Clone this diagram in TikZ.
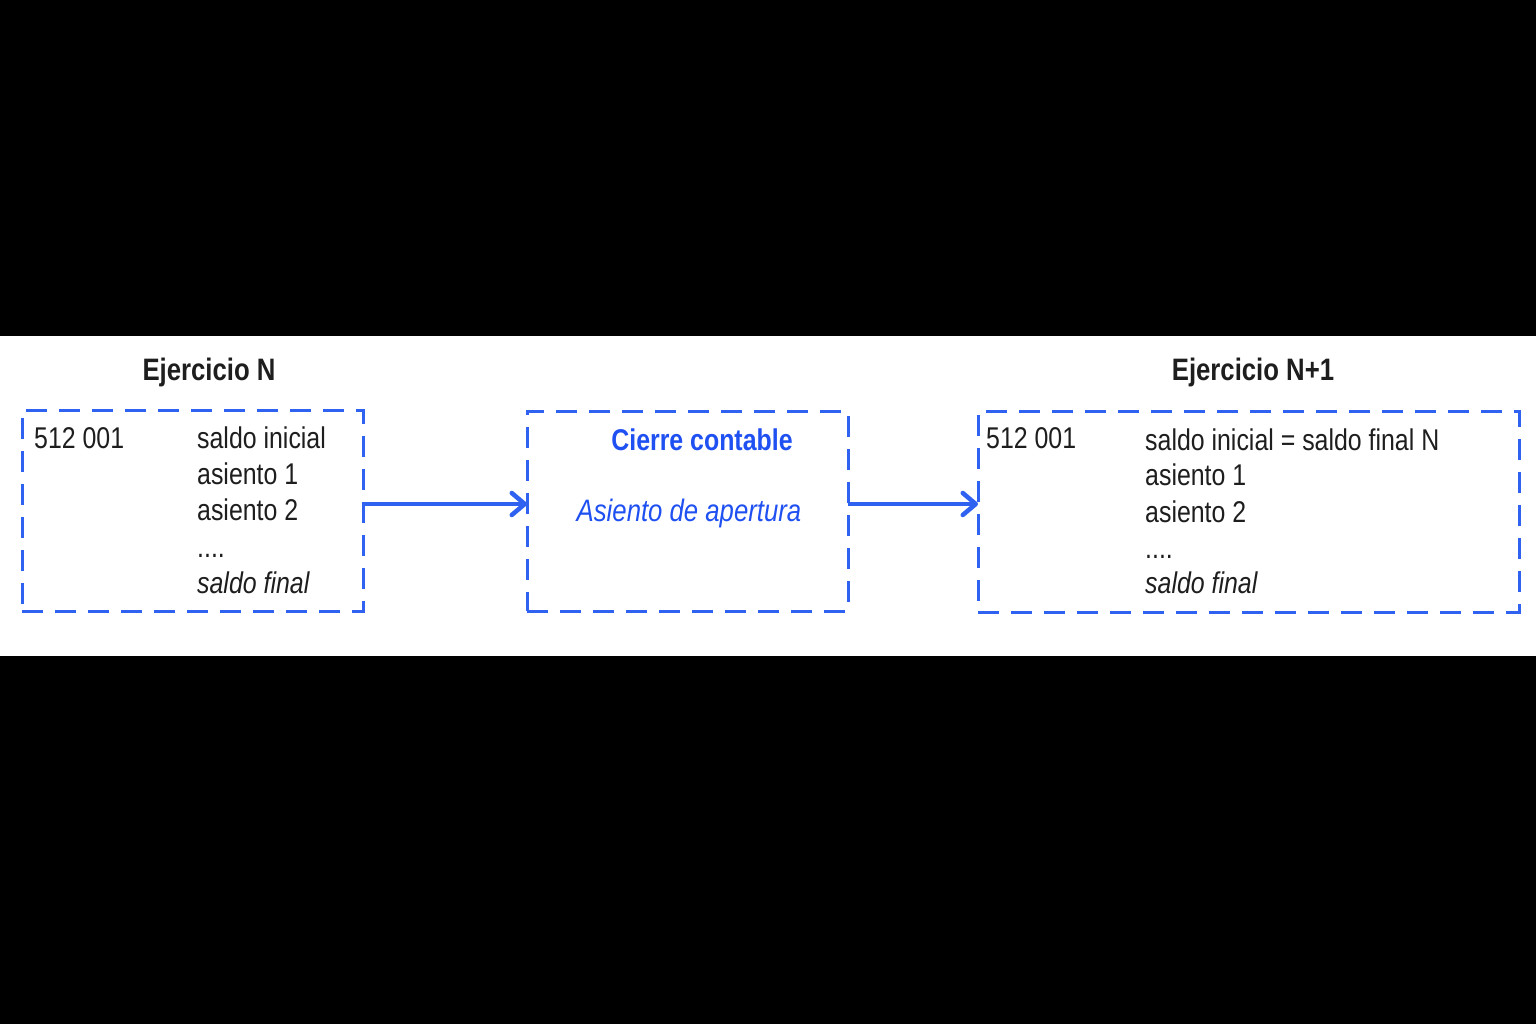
\documentclass[tikz,border=0pt]{standalone}
\usepackage{fontspec}
\setmainfont{Liberation Sans}[FakeStretch=0.83]
\usetikzlibrary{arrows.meta}
\definecolor{lineblue}{HTML}{2F62F0}
\definecolor{textblue}{HTML}{1F50F2}
\definecolor{ink}{HTML}{1E1E1E}
\tikzset{
  dbox/.style={draw=lineblue, line width=3pt, dash pattern=on 21pt off 12pt, minimum width=#1, inner sep=0pt, outer sep=0pt},
  txt/.style={anchor=base west, inner sep=0pt, text=ink, font=\fontsize{30}{36}\selectfont},
  ttl/.style={anchor=base, inner sep=0pt, text=ink, font=\fontsize{31}{36}\selectfont\bfseries},
  arr/.style={draw=lineblue, line width=4pt, -{Straight Barb[length=13pt,width=22pt,line width=4.5pt,round]}}
}
\begin{document}
\begin{tikzpicture}[x=1pt,y=-1pt]
\useasboundingbox (0,0) rectangle (1536,1024);
\fill[black] (0,0) rectangle (1536,1024);
\fill[white] (0,336) rectangle (1536,656);

% boxes
\node[dbox=341pt, minimum height=201pt] (lbox) at (192.5,510.5) {};
\node[dbox=321pt, minimum height=200pt] (mbox) at (687.5,511) {};
\node[dbox=541pt, minimum height=201pt] (rbox) at (1248.5,511.5) {};

% titles
\node[ttl] (t1) at (209,380) {Ejercicio N};
\node[ttl] (t2) at (1253,380) {Ejercicio N+1};

% left box text
\node[txt] (l0) at (34,448) {512 001};
\node[txt] (l1) at (197,448) {saldo inicial};
\node[txt] (l2) at (197,484) {asiento 1};
\node[txt] (l3) at (197,520) {asiento 2};
\node[txt] (l4) at (197,557) {....};
\node[txt] (l5) at (197,593) {\itshape saldo final};

% middle box text
\node[ttl, text=textblue, font=\fontsize{30}{36}\selectfont\bfseries] (m1) at (702,450) {Cierre contable};
\node[anchor=base, inner sep=0pt, text=textblue, font=\fontsize{31}{36}\selectfont\itshape] (m2) at (689,521) {Asiento de apertura};

% right box text
\node[txt] (r0) at (986,448) {512 001};
\node[txt] (r1) at (1145,450) {saldo inicial = saldo final N};
\node[txt] (r2) at (1145,485) {asiento 1};
\node[txt] (r3) at (1145,522) {asiento 2};
\node[txt] (r4) at (1145,558) {....};
\node[txt] (r5) at (1145,593) {\itshape saldo final};

% arrows
\draw[arr] ([yshift=6.5pt]lbox.east) -- ([yshift=6.5pt]lbox.east -| mbox.west);
\draw[arr] ([yshift=7pt]mbox.east) -- ([yshift=7pt]mbox.east -| rbox.west);
\end{tikzpicture}
\end{document}
